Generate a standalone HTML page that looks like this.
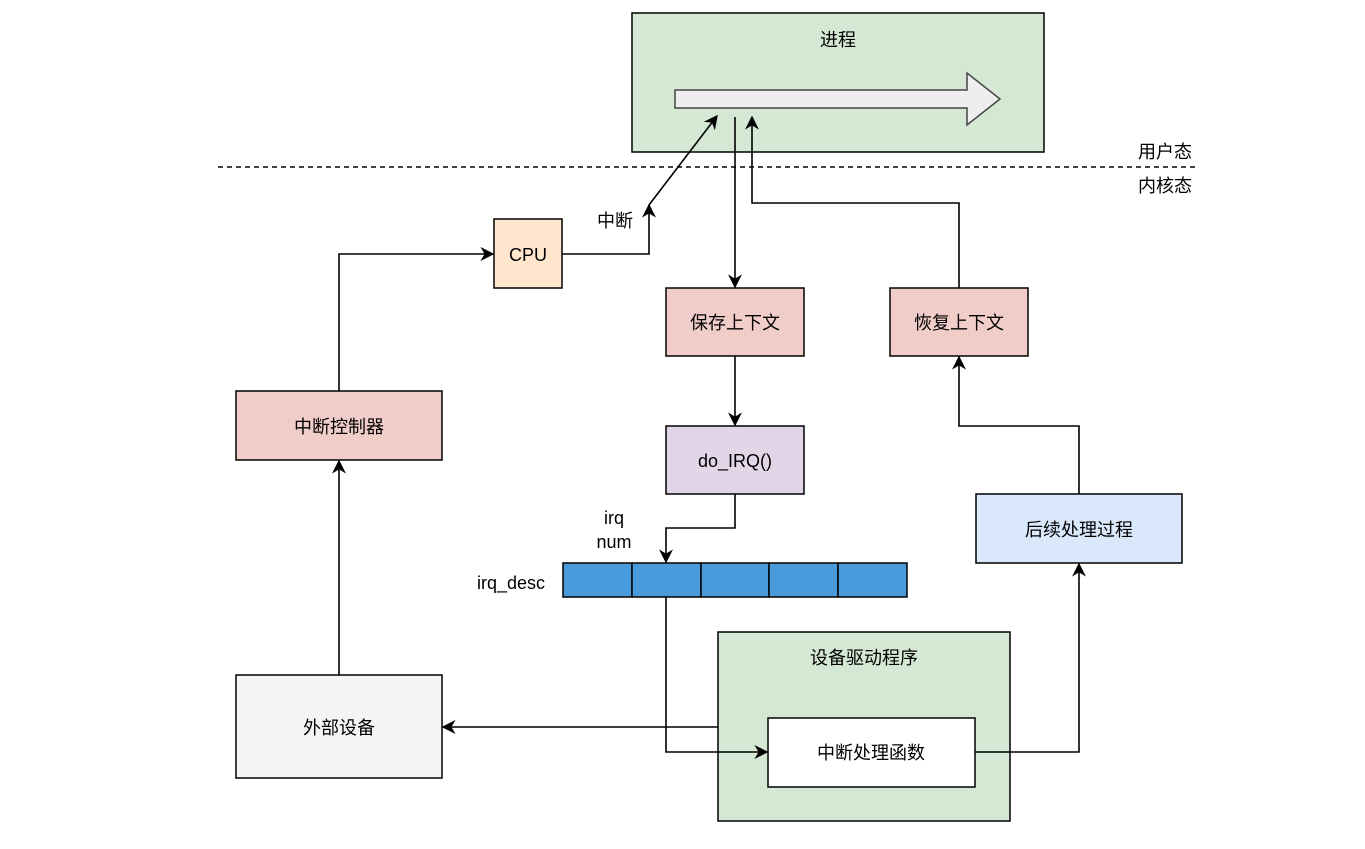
<!DOCTYPE html>
<html><head><meta charset="utf-8"><style>
html,body{margin:0;padding:0;background:#fff;}
svg text{font-family:"Liberation Sans","Noto Sans CJK SC",sans-serif;font-size:18px;fill:#000;}
</style></head><body>
<svg width="1365" height="844" viewBox="0 0 1365 844" xmlns="http://www.w3.org/2000/svg">
<defs>
<marker id="a" viewBox="0 0 10 10" refX="9" refY="5" markerWidth="14" markerHeight="14" markerUnits="userSpaceOnUse" orient="auto">
<path d="M0,0 L10,5 L0,10 L3,5 z" fill="#000"/></marker>
</defs>
<g stroke="#000" stroke-width="1.5">
<rect x="632" y="13" width="412" height="139" fill="#d5e8d4"/>
<path d="M675,90 L967,90 L967,73 L1000,99 L967,125 L967,108 L675,108 z" fill="#eeeeee" stroke="#444"/>
<rect x="494" y="219" width="68" height="69" fill="#ffe6cc"/>
<rect x="666" y="288" width="138" height="68" fill="#f1cdca"/>
<rect x="890" y="288" width="138" height="68" fill="#f1cdca"/>
<rect x="666" y="426" width="138" height="68" fill="#e1d5e7"/>
<rect x="976" y="494" width="206" height="69" fill="#dae8fc"/>
<rect x="236" y="391" width="206" height="69" fill="#f1cdca"/>
<rect x="236" y="675" width="206" height="103" fill="#f5f5f5"/>
<rect x="718" y="632" width="292" height="189" fill="#d5e8d4"/>
<rect x="768" y="718" width="207" height="69" fill="#fff"/>
<g fill="#4a9bdb">
<rect x="563" y="563" width="69" height="34"/><rect x="632" y="563" width="69" height="34"/><rect x="701" y="563" width="68" height="34"/><rect x="769" y="563" width="69" height="34"/><rect x="838" y="563" width="69" height="34"/>
</g>
</g>
<line x1="218" y1="167" x2="1195" y2="167" stroke="#000" stroke-width="1.5" stroke-dasharray="5,4"/>
<g stroke="#000" stroke-width="1.6" fill="none">
<polyline points="562,254 649,254 649,205" marker-end="url(#a)"/>
<line x1="649" y1="205" x2="717" y2="116" marker-end="url(#a)"/>
<line x1="735" y1="117" x2="735" y2="287" marker-end="url(#a)"/>
<polyline points="959,288 959,203 752,203 752,117" marker-end="url(#a)"/>
<line x1="735" y1="356" x2="735" y2="425" marker-end="url(#a)"/>
<polyline points="735,494 735,528 666,528 666,562" marker-end="url(#a)"/>
<polyline points="666,597 666,752 767,752" marker-end="url(#a)"/>
<polyline points="975,752 1079,752 1079,564" marker-end="url(#a)"/>
<polyline points="1079,494 1079,426 959,426 959,357" marker-end="url(#a)"/>
<line x1="718" y1="727" x2="443" y2="727" marker-end="url(#a)"/>
<line x1="339" y1="675" x2="339" y2="461" marker-end="url(#a)"/>
<polyline points="339,391 339,254 493,254" marker-end="url(#a)"/>
</g>
<g text-anchor="middle">
<text x="838" y="46">进程</text>
<text x="1165" y="158">用户态</text>
<text x="1165" y="192">内核态</text>
<text x="528" y="261">CPU</text>
<text x="615" y="227">中断</text>
<text x="735" y="329">保存上下文</text>
<text x="959" y="329">恢复上下文</text>
<text x="735" y="467">do_IRQ()</text>
<text x="1079" y="536">后续处理过程</text>
<text x="339" y="433">中断控制器</text>
<text x="339" y="734">外部设备</text>
<text x="864" y="664">设备驱动程序</text>
<text x="871" y="759">中断处理函数</text>
<text x="614" y="524">irq</text>
<text x="614" y="548">num</text>
<text x="511" y="589">irq_desc</text>
</g>
</svg>
</body></html>
